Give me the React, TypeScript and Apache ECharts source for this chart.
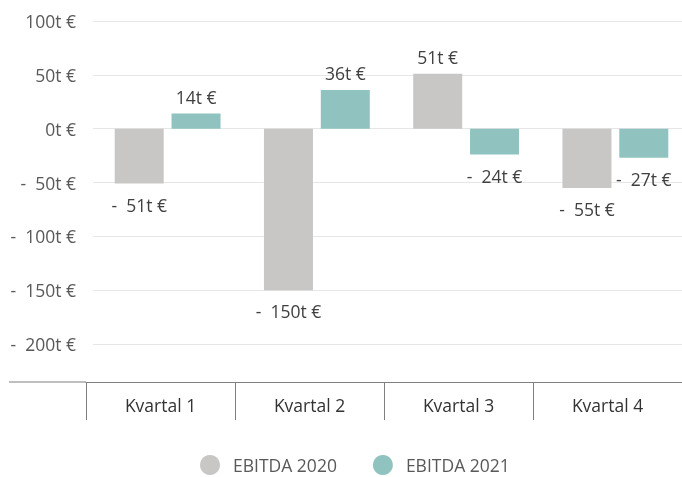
import React, { useEffect, useRef } from "react";
import * as echarts from "echarts";

const categories = ["Kvartal 1", "Kvartal 2", "Kvartal 3", "Kvartal 4"];
const seriesNames = ["EBITDA 2020", "EBITDA 2021"];
const ebitda2020 = [-51, -150, 51, -55];
const ebitda2021 = [14, 36, -24, -27];
const colors = ["#C8C7C6", "#90C3C0"];

const FONT = "'Open Sans', sans-serif";
const FS = 17.5;

function fmt(v: number): string {
  return v < 0 ? "-  " + Math.abs(v) + "t €" : v + "t €";
}

function toData(values: number[]) {
  return values.map((v) => ({
    value: v,
    label: { position: v < 0 ? "bottom" : "top", distance: v < 0 ? 12 : 8 },
  }));
}

export default function App() {
  const ref = useRef<HTMLDivElement>(null);
  useEffect(() => {
    if (!ref.current) return;
    const chart = echarts.init(ref.current, undefined, { renderer: "svg" });
    const labelCfg = {
      show: true,
      color: "#404040",
      fontFamily: FONT,
      fontSize: FS,
      formatter: (p: any) => fmt(p.value),
    };
    chart.setOption({
      animation: false,
      grid: [
        { left: 93, width: 597, top: 21, height: 323, outerBoundsMode: "none" },
        { left: 86, right: 0, top: 300, bottom: 95, outerBoundsMode: "none" },
      ],
      xAxis: [
        { type: "category", gridIndex: 0, data: categories, show: false },
        {
          type: "category",
          gridIndex: 1,
          data: categories,
          boundaryGap: true,
          axisLine: { show: true, lineStyle: { color: "#7f7f7f", width: 1 } },
          axisTick: { show: true, length: 38, lineStyle: { color: "#7f7f7f", width: 1 } },
          axisLabel: { margin: 14, color: "#333333", fontFamily: FONT, fontSize: FS },
          splitLine: { show: false },
        },
      ],
      yAxis: [
        {
          type: "value",
          gridIndex: 0,
          min: -200,
          max: 100,
          interval: 50,
          axisLine: { show: false },
          axisTick: { show: false },
          axisLabel: {
            margin: 17,
            color: "#595959",
            fontFamily: FONT,
            fontSize: FS,
            formatter: (v: number) => fmt(v),
          },
          splitLine: { lineStyle: { color: "#e6e6e6", width: 1 } },
        },
        { type: "value", gridIndex: 1, show: false },
      ],
      legend: {
        data: seriesNames,
        left: 195,
        top: 450,
        icon: "circle",
        itemWidth: 20,
        itemHeight: 20,
        itemGap: 36,
        textStyle: {
          color: "#595959",
          fontFamily: FONT,
          fontSize: FS,
          padding: [0, 0, 0, 8],
        },
      },
      graphic: [
        {
          type: "line",
          shape: { x1: 9, y1: 382, x2: 86, y2: 382 },
          style: { stroke: "#7f7f7f", lineWidth: 1 },
        },
      ],
      series: [
        {
          name: seriesNames[0],
          type: "bar",
          xAxisIndex: 0,
          yAxisIndex: 0,
          data: toData(ebitda2020),
          barWidth: 49,
          barGap: "16%",
          itemStyle: { color: colors[0] },
          label: labelCfg,
        },
        {
          name: seriesNames[1],
          type: "bar",
          xAxisIndex: 0,
          yAxisIndex: 0,
          data: toData(ebitda2021),
          barWidth: 49,
          barGap: "16%",
          itemStyle: { color: colors[1] },
          label: labelCfg,
        },
      ],
    });
    return () => chart.dispose();
  }, []);
  return (
    <div
      ref={ref}
      style={{ position: "fixed", left: 0, top: 0, width: 682, height: 477 }}
    />
  );
}
